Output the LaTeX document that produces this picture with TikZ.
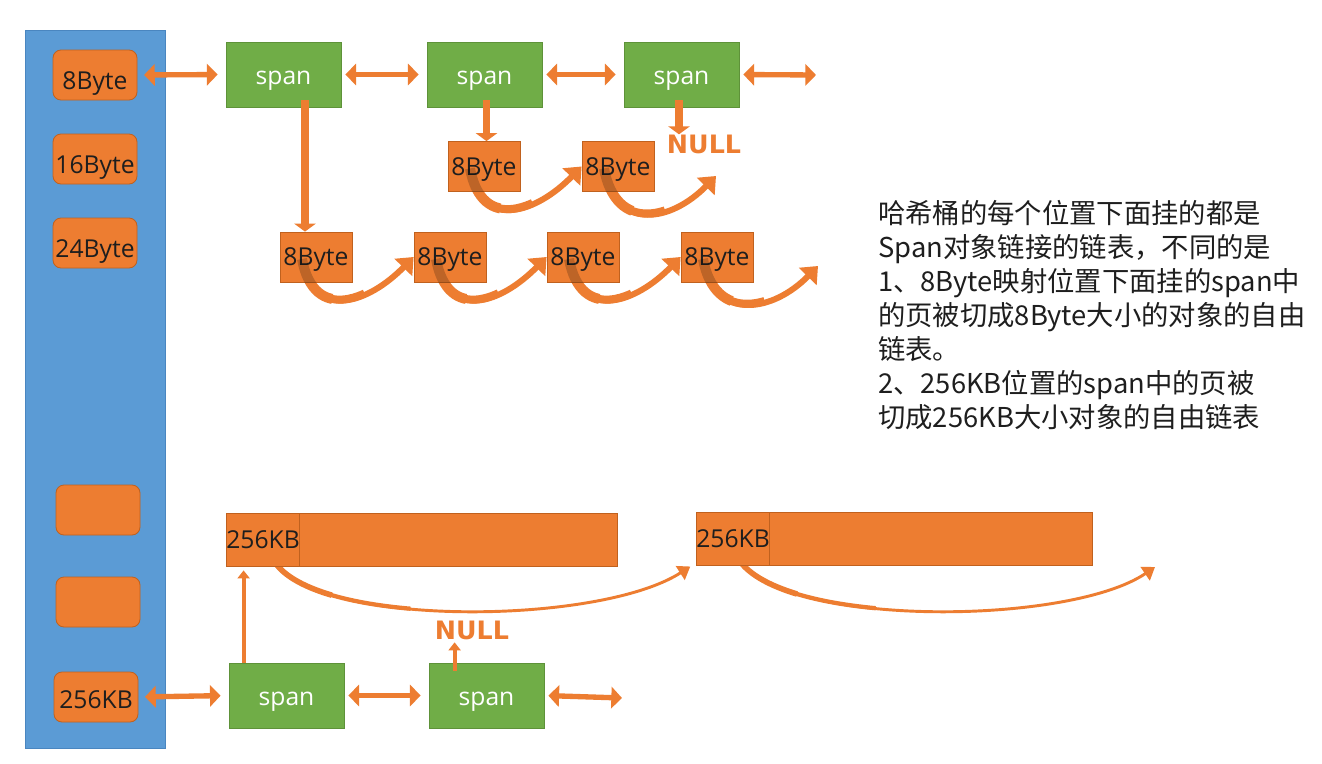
\documentclass[tikz,border=0pt]{standalone}
\usepackage{fontspec}
\setmainfont{Open Sans}
\newfontfamily\cjktxt{Noto Sans CJK SC}
\newfontfamily\nullfnt{DejaVu Sans}
\usetikzlibrary{arrows.meta,calc}
\pgfdeclarelayer{paper}
\pgfdeclarelayer{back}
\pgfsetlayers{paper,back,main}
\definecolor{ob}{HTML}{ED7D31}
\definecolor{obd}{HTML}{C0611E}
\definecolor{gb}{HTML}{70AD47}
\definecolor{gbd}{HTML}{5E9239}
\definecolor{bb}{HTML}{5B9BD5}
\definecolor{bbd}{HTML}{4A86C0}
\definecolor{txt}{HTML}{1E1E1E}
\begin{document}
\begin{tikzpicture}[x=0.75pt,y=-0.75pt,
  bucket/.style={draw=bbd, fill=bb, line width=0.6pt, inner sep=0pt},
  boxfont/.style={font=\fontsize{18.5}{20}\selectfont},
  slot/.style={draw=obd, fill=ob, rounded corners=6pt, minimum width=63pt, minimum height=37.5pt, line width=0.6pt, boxfont, text=txt, inner sep=0pt, text height=21pt, text depth=0pt},
  spanbox/.style={draw=gbd, fill=gb, minimum width=86.25pt, minimum height=48.75pt, text=white, boxfont, line width=0.6pt, inner sep=0pt, text height=14.4pt, text depth=0pt},
  objbox/.style={draw=obd, fill=ob, minimum width=54pt, minimum height=37.5pt, boxfont, text=txt, inner sep=0pt, line width=0.6pt, text height=13.2pt, text depth=0pt},
  barbox/.style={draw=obd, fill=ob, minimum height=39.75pt, inner sep=0pt, line width=0.6pt, text height=13.2pt, text depth=0pt},
  nulltxt/.style={text=ob, font=\nullfnt\bfseries\fontsize{19}{21}\selectfont, inner sep=0pt},
  dbl/.style={draw=ob, line width=4pt, {Triangle[width=16pt,length=8pt]}-{Triangle[width=16pt,length=8pt]}, shorten <=5pt, shorten >=6pt},
  vdown/.style={draw=ob, line width=5.5pt, -{Triangle[width=16pt,length=6pt]}},
  vthin/.style={draw=ob, line width=3pt, -{Triangle[width=9pt,length=6pt]}},
  curl/.style={draw=ob, line width=4.5pt, -{Triangle[width=18pt,length=11pt]}},
  curlA/.style={draw=ob, line width=7.5pt, dash pattern=on 40pt off 2000pt},
  curlB/.style={draw=ob, line width=6pt, dash pattern=on 65pt off 2000pt},
  shade/.style={draw=black, draw opacity=0.2, line width=7.5pt},
  longcurl/.style={draw=ob, line width=2.2pt, -{Triangle[width=12pt,length=9pt]}},
  longA/.style={draw=ob, line width=4.2pt, dash pattern=on 50pt off 2000pt},
  longB/.style={draw=ob, line width=3.2pt, dash pattern=on 110pt off 2000pt},
  note/.style={font=\cjktxt\fontsize{20.5}{25.5}\selectfont, text=txt, align=left, inner sep=0pt, anchor=north west}
]
\begin{pgfonlayer}{paper}
\fill[white] (0,0) rectangle (1322,764);
\end{pgfonlayer}
\useasboundingbox (0,0) rectangle (1322,764);

% hash bucket column
\node[bucket, minimum width=105pt, minimum height=538.5pt, anchor=north west] (bk) at (25,30) {};
\node[slot] (sl8)  at (95,75)  {8Byte};
\node[slot] (sl16) at (95,159) {16Byte};
\node[slot] (sl24) at (95,243) {24Byte};
\node[slot] (slx)  at (98,510) {};
\node[slot] (sly)  at (98,602) {};
\node[slot, text height=17pt] (sl256) at (96,697) {256KB};

% top span list
\node[spanbox] (s1) at (283.5,74.5) {span};
\node[spanbox] (s2) at (484.5,74.5) {span};
\node[spanbox] (s3) at (681.5,74.5) {span};
\coordinate (s3end) at (816,75);
\draw[dbl] (sl8.east) -- (s1.west);
\draw[dbl, shorten <=3pt] (s1.east) -- (s2.west);
\draw[dbl, shorten <=3pt] (s2.east) -- (s3.west);
\draw[dbl, shorten <=3pt, shorten >=0pt] (s3.east) -- (s3end);

% row A objects (under span 1)
\node[objbox] (o1) at (316,257) {8Byte};
\node[objbox] (o2) at (450,257) {8Byte};
\node[objbox] (o3) at (583,257) {8Byte};
\node[objbox] (o4) at (717,257) {8Byte};
\coordinate (oend) at (818,266);

% row B objects (under span 2)
\node[objbox] (p1) at (484,166.5) {8Byte};
\node[objbox] (p2) at (618,166.5) {8Byte};
\coordinate (pend) at (716,176);
\node[nulltxt] (n1) at (704,144) {NULL};

% down arrows from spans
\coordinate (d1) at ($(s1.south)+(21.5,-7)$);
\draw[vdown] (d1) -- (d1 |- o1.north);
\coordinate (d2) at ($(s2.south)+(2,-7)$);
\draw[vdown] (d2) -- (d2 |- p1.north);
\coordinate (d3) at ($(s3.south)+(-2.5,-7)$);
\draw[vdown] (d3) -- (d3 |- n1.north);

% curved next-pointers (behind the boxes, tapered look)
\begin{pgfonlayer}{back}
\foreach \a/\b in {p1/p2.west, o1/o2.west, o2/o3.west, o3/o4.west, p2/pend, o4/oend}{
  \foreach \st in {curlA,curlB,curl}{
    \draw[\st] ($(\a.center)+(-14,2)$) .. controls ($(\a.center)+(-2,66)$) and ($(\b)+(-45,46)$) .. (\b);
  }
}
\end{pgfonlayer}
% darker part of each curve where it crosses its own box
\foreach \a/\b in {p1/p2.west, o1/o2.west, o2/o3.west, o3/o4.west, p2/pend, o4/oend}{
  \begin{scope}
    \clip (\a.south west) rectangle (\a.north east);
    \draw[shade] ($(\a.center)+(-14,2)$) .. controls ($(\a.center)+(-2,66)$) and ($(\b)+(-45,46)$) .. (\b);
  \end{scope}
}

% 256KB objects
\node[barbox, minimum width=292.5pt] (kb1) at (422,539.5) {};
\node[barbox, minimum width=54pt, boxfont, text=txt] (kc1) at (263,539.5) {256KB};
\node[barbox, minimum width=296pt] (kb2) at (895,538.5) {};
\node[barbox, minimum width=52.5pt, boxfont, text=txt] (kc2) at (733,538.5) {256KB};
\coordinate (kend) at (1155,567);
\coordinate (kmid) at ($(kb2.west)+(-7,28)$);

\begin{pgfonlayer}{back}
\foreach \st in {longA,longB,longcurl}{
  \draw[\st] ($(kc1.south)+(12,-4)$) .. controls (320,628) and (600,625) .. (kmid);
  \draw[\st] ($(kc2.south)+(7,-4)$) .. controls (790,628) and (1070,625) .. (kend);
}
\end{pgfonlayer}

% bottom span list
\node[spanbox] (sb1) at (286.5,695.5) {span};
\node[spanbox] (sb2) at (486.5,695.5) {span};
\coordinate (sbend) at (622,698);
\draw[dbl] (sl256.east) -- (sb1.west);
\draw[dbl, shorten <=3pt] (sb1.east) -- (sb2.west);
\draw[dbl, shorten <=3pt, shorten >=0pt] (sb2.east) -- (sbend);

\node[nulltxt] (n2) at (472,630) {NULL};
\coordinate (u1) at ($(sb1.north west)+(15,0)$);
\draw[vthin, shorten >=3pt] (u1) -- (u1 |- kb1.south);
\coordinate (u2) at ($(sb2.north west)+(26,8)$);
\draw[vthin, shorten >=2pt] (u2) -- (u2 |- n2.south);

% explanation
\node[note] (txt) at (878,200) {哈希桶的每个位置下面挂的都是\\
Span对象链接的链表，不同的是\\
1、8Byte映射位置下面挂的span中\\
的页被切成8Byte大小的对象的自由\\
链表。\\
2、256KB位置的span中的页被\\
切成256KB大小对象的自由链表};
\end{tikzpicture}
\end{document}
